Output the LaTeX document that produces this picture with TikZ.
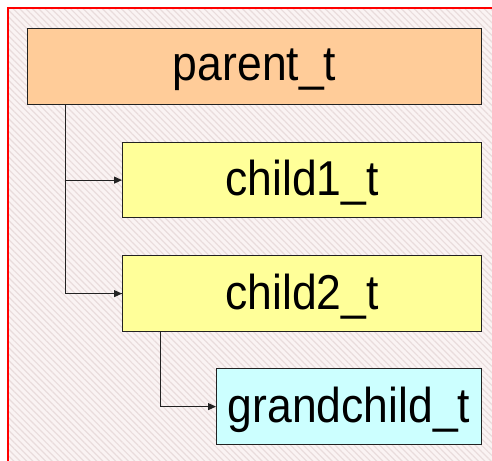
\documentclass[tikz,border=0pt]{standalone}
\usepackage{fontspec}
\setmainfont{Liberation Sans}
\usetikzlibrary{arrows.meta,patterns.meta}
\definecolor{bgpink}{HTML}{FAF3F3}
\definecolor{stripe}{HTML}{E9DCDC}
\definecolor{parentfill}{HTML}{FFCC99}
\definecolor{childfill}{HTML}{FFFF99}
\definecolor{grandfill}{HTML}{CCFFFF}
\definecolor{edge}{HTML}{222222}
% type name, slightly stretched and set a little low in its box
\newcommand{\tallname}[1]{\raisebox{-3pt}[\height][\depth]{\scalebox{1}[1.1]{#1}}}
\tikzset{
  typebox/.style={draw=edge, line width=1.2pt, minimum height=76pt, anchor=north west,
    inner sep=0pt, font=\fontsize{44.5}{48}\selectfont},
  link/.style={draw=edge, line width=1pt, -{Triangle[length=8pt,width=7pt]}},
  trunk/.style={draw=edge, line width=1pt}
}
\begin{document}
\begin{tikzpicture}[x=1pt,y=-1pt]
  \useasboundingbox (0,0) rectangle (492,460);
  % hatched backdrop inside the red frame
  \fill[bgpink] (8,8) rectangle (500,470);
  \fill[pattern={Lines[angle=-45,distance=4.5pt,line width=1.2pt]}, pattern color=stripe]
    (8,8) rectangle (500,470);
  \draw[red, line width=2.5pt] (8,470) -- (8,8) -- (500,8);

  % type boxes
  \node[typebox, fill=parentfill, minimum width=454pt] (parent) at (27,28) {\tallname{parent\_t}};
  \node[typebox, fill=childfill, minimum width=359pt, minimum height=75pt] (child1) at (122,142) {\tallname{child1\_t}};
  \node[typebox, fill=childfill, minimum width=359pt] (child2) at (122,255) {\tallname{child2\_t}};
  \node[typebox, fill=grandfill, minimum width=265pt] (grand) at (216,368) {\tallname{grandchild\_t}};

  % connectors
  \coordinate (pdrop) at ([xshift=38pt]parent.south west);
  \coordinate (cdrop) at ([xshift=38pt]child2.south west);
  \draw[trunk] (pdrop) |- (child2.west);
  \draw[link] (pdrop |- child1.west) -- (child1.west);
  \draw[link] (pdrop |- child2.west) -- (child2.west);
  \draw[trunk] (cdrop) -- (cdrop |- grand.west);
  \draw[link] (cdrop |- grand.west) -- (grand.west);
\end{tikzpicture}
\end{document}
